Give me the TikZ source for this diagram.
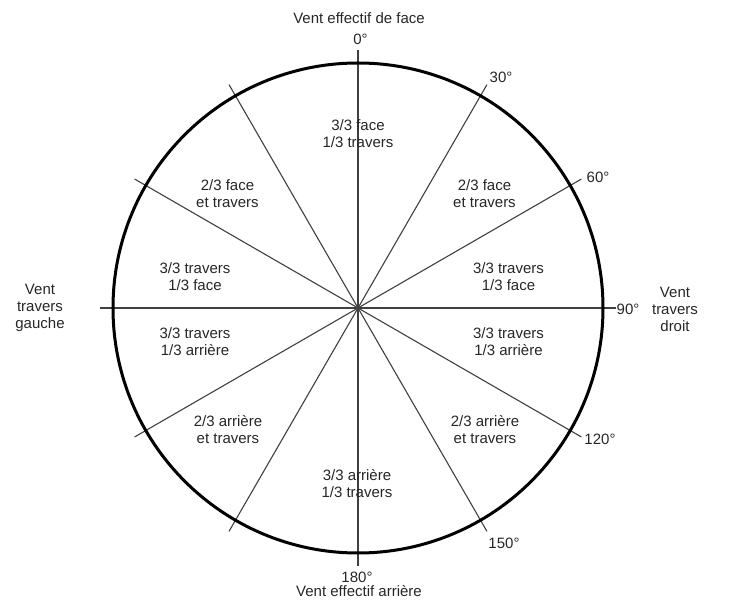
\documentclass[tikz,border=0pt]{standalone}
\usepackage{fontspec}
\setmainfont{Liberation Sans}
\begin{document}
\begin{tikzpicture}[x=1pt,y=1pt,
  lbl/.style={font=\fontsize{15}{17}\selectfont, text=black!85, align=center, inner sep=0pt},
  spoke/.style={draw=black!75, line width=1.1pt},
  rim/.style={draw=black, line width=3pt}]
\useasboundingbox (-358,-299) rectangle (386,308);
\coordinate (O) at (0,0);
% spokes
\foreach \a in {0,30,...,330}{
  \coordinate (s\a) at ({90-\a}:258);
  \draw[spoke] (O) -- (s\a);
}
\draw[rim] (O) circle (245);
% degree labels
\node[lbl] (d0) at (2.5,269) {0°};
\node[lbl] (d30) at (143,231) {30°};
\node[lbl] (d60) at (240,131) {60°};
\node[lbl] (d90) at (270,-1) {90°};
\node[lbl] (d120) at (242,-131) {120°};
\node[lbl] (d150) at (146,-235) {150°};
\node[lbl] (d180) at (-1,-269) {180°};
% outer titles
\node[lbl] (tface) at (1,290) {Vent effectif de face};
\node[lbl] (tarr) at (1,-283) {Vent effectif arrière};
\node[lbl] (tdroit) at (317,-1) {Vent\\travers\\droit};
\node[lbl] (tgauche) at (-318,0) {Vent\\travers\\gauche};
% sector labels
\node[lbl] (sf) at (0,174) {3/3 face\\1/3 travers};
\node[lbl] (sfr) at (126.5,114) {2/3 face\\et travers};
\node[lbl] (sfl) at (-130.5,114) {2/3 face\\et travers};
\node[lbl] (str) at (150.5,31.5) {3/3 travers\\1/3 face};
\node[lbl] (stl) at (-163,31.5) {3/3 travers\\1/3 face};
\node[lbl] (sar) at (150.5,-33.5) {3/3 travers\\1/3 arrière};
\node[lbl] (sal) at (-163,-33.5) {3/3 travers\\1/3 arrière};
\node[lbl] (sbr) at (127,-122) {2/3 arrière\\et travers};
\node[lbl] (sbl) at (-130,-122) {2/3 arrière\\et travers};
\node[lbl] (sb) at (-1,-176) {3/3 arrière\\1/3 travers};
\end{tikzpicture}
\end{document}
